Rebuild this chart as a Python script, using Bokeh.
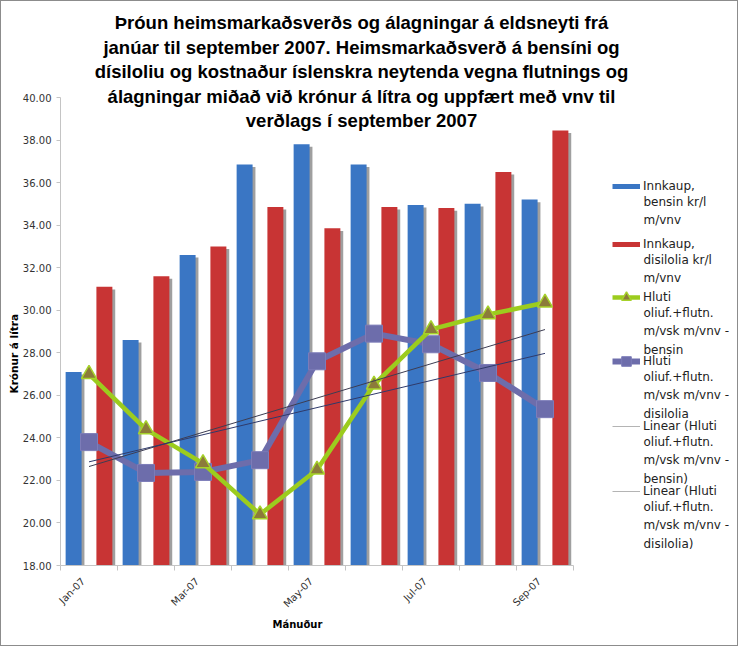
import math
import numpy as np
from bokeh.plotting import figure
from bokeh.models import (ColumnDataSource, FixedTicker, NumeralTickFormatter, Label,
                          Legend, LegendItem, Range1d, Title)
from bokeh.embed import file_html
from bokeh.resources import INLINE

# ---------------- data ----------------
months = ["Jan-07", "Feb-07", "Mar-07", "Apr-07", "May-07", "Jun-07", "Jul-07", "Aug-07", "Sep-07"]
innkaup_bensin = [27.1, 28.6, 32.6, 36.85, 37.8, 36.85, 34.95, 35.0, 35.2]
innkaup_disilolia = [31.1, 31.6, 33.0, 34.85, 33.85, 34.85, 34.8, 36.5, 38.45]
hluti_bensin = [27.0, 24.4, 22.8, 20.4, 22.5, 26.5, 29.1, 29.8, 30.35]
hluti_disilolia = [23.8, 22.35, 22.4, 22.95, 27.6, 28.9, 28.4, 27.05, 25.35]
y_ticks = [18, 20, 22, 24, 26, 28, 30, 32, 34, 36, 38, 40]
x_label_months = ["Jan-07", "Mar-07", "May-07", "Jul-07", "Sep-07"]
x_title = "Mánuður"
y_title = "Krónur á lítra"

title_lines = [
    "Þróun heimsmarkaðsverðs og álagningar á eldsneyti frá",
    "janúar til september 2007. Heimsmarkaðsverð á bensíni og",
    "dísiloliu og kostnaður íslenskra neytenda vegna flutnings og",
    "álagningar miðað við krónur á lítra og uppfært með vnv til",
    "verðlags í september 2007",
]
legend_labels = [
    ["Innkaup,", "bensin kr/l", "m/vnv"],
    ["Innkaup,", "disilolia kr/l", "m/vnv"],
    ["Hluti", "oliuf.+flutn.", "m/vsk m/vnv -", "bensin"],
    ["Hluti", "oliuf.+flutn.", "m/vsk m/vnv -", "disilolia"],
    ["Linear (Hluti", "oliuf.+flutn.", "m/vsk m/vnv -", "bensin)"],
    ["Linear (Hluti", "oliuf.+flutn.", "m/vsk m/vnv -", "disilolia)"],
]

# ---------------- derived ----------------
x = np.arange(len(months), dtype=float)
off = 0.27
bw = 0.28
trend_b = np.polyval(np.polyfit(x, hluti_bensin, 1), x)
trend_d = np.polyval(np.polyfit(x, hluti_disilolia, 1), x)

src = ColumnDataSource(dict(
    xb=x - off, xr=x + off, xbs=x - off + 0.05, xrs=x + off + 0.05,
    blue=innkaup_bensin, red=innkaup_disilolia,
    blue_s=np.array(innkaup_bensin) - 0.12, red_s=np.array(innkaup_disilolia) - 0.12,
    x=x, hb=hluti_bensin, hd=hluti_disilolia, tb=trend_b, td=trend_d,
))

# canvas geometry (canvas px = reference px - 1 because of the 1px border)
W, H = 738, 646
FL, FB = 59, 564          # frame left / bottom
PX_X = 57.0               # px per category
PX_Y = 468.0 / 22.0       # px per y unit
x_end = -0.5 + (W - FL) / PX_X
y_end = 18 + FB / PX_Y

p = figure(width=W, height=H, output_backend="svg", toolbar_location=None,
           x_range=Range1d(-0.5, x_end), y_range=Range1d(18, y_end),
           min_border_left=FL, min_border_right=0,
           min_border_top=0, min_border_bottom=H - FB)
p.styles = {"border": "1px solid #8c8c8c"}
p.background_fill_color = "white"
p.border_fill_color = "white"
p.outline_line_color = None
p.xgrid.visible = False
p.ygrid.visible = False

# bars with shadow
p.vbar(x="xbs", top="blue_s", bottom=18, width=bw, source=src,
       fill_color="#8e8e8e", line_color=None, fill_alpha=0.85)
p.vbar(x="xrs", top="red_s", bottom=18, width=bw, source=src,
       fill_color="#8e8e8e", line_color=None, fill_alpha=0.85)
p.vbar(x="xb", top="blue", bottom=18, width=bw, source=src,
       fill_color="#3a76c4", line_color=None)
p.vbar(x="xr", top="red", bottom=18, width=bw, source=src,
       fill_color="#c83434", line_color=None)

# lines
pl = p.line("x", "hd", source=src, line_color="#6d6dab", line_width=6)
ps = p.scatter("x", "hd", source=src, marker="square", size=17,
               fill_color="#6d6dab", line_color="#7c7cb8", line_width=1)
gl = p.line("x", "hb", source=src, line_color="#9ccc1e", line_width=4.5)
gs = p.scatter("x", "hb", source=src, marker="triangle", size=15,
               fill_color="#8c7b3a", line_color="#a6d22a", line_width=1.5)
tbl = p.line("x", "tb", source=src, line_color="#3d3d52", line_width=1)
tdl = p.line("x", "td", source=src, line_color="#2f3a6a", line_width=1)

# renderers without visible data, used only as legend swatches
nodata = ColumnDataSource(dict(x=[np.nan], y=[np.nan]))
lb = p.line("x", "y", source=nodata, line_color="#3a76c4", line_width=5)
lr = p.line("x", "y", source=nodata, line_color="#c83434", line_width=5)
ltb = p.line("x", "y", source=nodata, line_color="#b4b4b4", line_width=1)
ltd = p.line("x", "y", source=nodata, line_color="#b4b4b4", line_width=1)

# axes
label_shift = 0.1
tick_pos = {m: round(months.index(m) - label_shift, 2) for m in x_label_months}
xa = p.xaxis[0]
xa.bounds = (-0.5, 8.5)
xa.ticker = FixedTicker(ticks=list(tick_pos.values()),
                        minor_ticks=[i - 0.5 for i in range(10)])
xa.major_label_overrides = {v: k for k, v in tick_pos.items()}
xa.major_label_orientation = math.pi / 4
xa.major_tick_line_color = None
xa.minor_tick_line_color = "#c4c4c4"
xa.minor_tick_out = 5
xa.minor_tick_in = 0
xa.axis_line_color = "#c4c4c4"
xa.major_label_text_font = "DejaVu Sans"
xa.major_label_text_font_size = "10px"
xa.major_label_text_color = "#333333"
xa.major_label_standoff = 8

ya = p.yaxis[0]
ya.bounds = (18, 40)
ya.ticker = FixedTicker(ticks=y_ticks, minor_ticks=[])
ya.formatter = NumeralTickFormatter(format="0.00")
ya.major_tick_line_color = "#c4c4c4"
ya.major_tick_out = 4
ya.major_tick_in = 0
ya.minor_tick_line_color = None
ya.axis_line_color = "#c4c4c4"
ya.major_label_text_font = "DejaVu Sans"
ya.major_label_text_font_size = "10px"
ya.major_label_text_color = "#333333"
ya.major_label_standoff = 5

# axis titles as side-panel titles (positioned like the reference)
p.add_layout(Title(text=x_title, align="left", offset=271 - FL, standoff=0,
                   text_font="DejaVu Sans", text_font_style="bold",
                   text_font_size="10px", text_color="black"), "below")
p.add_layout(Title(text=y_title, align="left", offset=FB - 392, standoff=0,
                   text_font="DejaVu Sans", text_font_style="bold",
                   text_font_size="10.5px", text_color="black"), "left")

# chart title lines
title_cy = [22, 46.5, 71, 95.5, 120]
for line, cy in zip(title_lines, title_cy):
    p.add_layout(Label(x=360 - FL, y=FB - (cy - 1), x_units="screen", y_units="screen",
                       text=line, text_align="center", text_baseline="middle",
                       text_font="Liberation Sans", text_font_style="bold",
                       text_font_size="18.5px", text_color="black"))

# legend: one legend per entry (glyph on the first text line), rest of text as label
item_renderers = [[lb], [lr], [gl, gs], [pl, ps], [ltb], [ltd]]
first_line_cy = [186, 244, 297, 361, 426, 491]
line_px = 16.2
GH = 24
for lines, rends, cy in zip(legend_labels, item_renderers, first_line_cy):
    c = cy - 1
    lg = Legend(items=[LegendItem(label=lines[0], renderers=rends)],
                location=(611 - FL, FB - (c + GH / 2)),
                padding=0, margin=0, spacing=0,
                border_line_color=None, background_fill_alpha=0,
                glyph_width=28, glyph_height=GH, label_standoff=3,
                label_text_font="DejaVu Sans", label_text_font_size="12px",
                label_text_color="#222222")
    p.add_layout(lg)
    p.add_layout(Label(x=642 - FL, y=FB - (c + line_px / 2), x_units="screen", y_units="screen",
                       text="\n".join(lines[1:]), text_align="left", text_baseline="top",
                       text_font="DejaVu Sans", text_font_size="12px",
                       text_line_height=1.35, text_color="#222222"))

open("out.html", "w").write(file_html(p, INLINE))
